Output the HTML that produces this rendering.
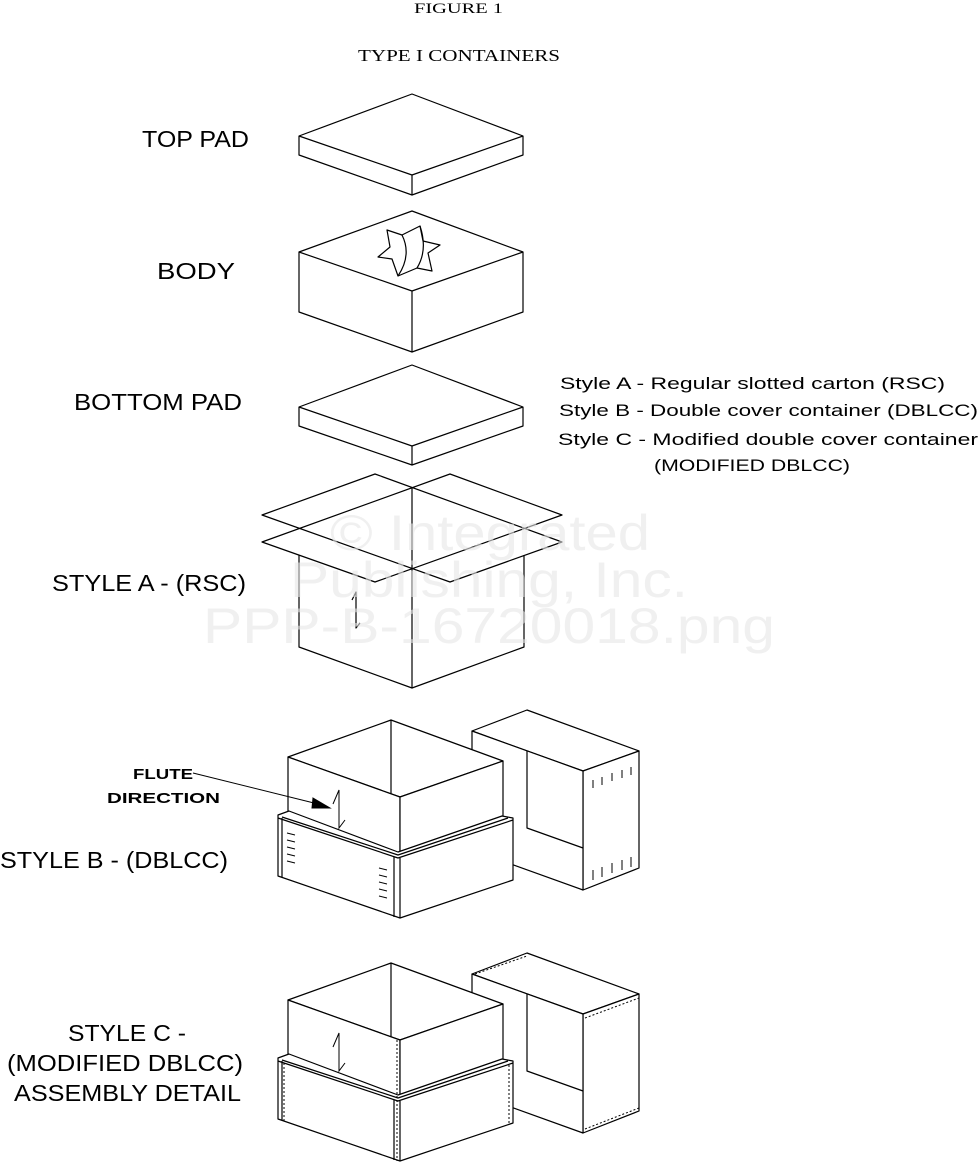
<!DOCTYPE html>
<html><head><meta charset="utf-8"><style>
html,body{margin:0;padding:0;background:#fff}
svg{display:block}
text{font-family:"Liberation Sans",sans-serif;fill:#000}
</style></head><body>
<svg width="979" height="1163" viewBox="0 0 979 1163" xmlns="http://www.w3.org/2000/svg">
<text x="414" y="13" style="font-family:'Liberation Serif',serif" font-size="15" textLength="89" lengthAdjust="spacingAndGlyphs">FIGURE 1</text>
<text x="358" y="61" style="font-family:'Liberation Serif',serif" font-size="17" textLength="202" lengthAdjust="spacingAndGlyphs">TYPE I CONTAINERS</text>

<g font-size="23">
<text x="142" y="147" textLength="107" lengthAdjust="spacingAndGlyphs">TOP PAD</text>
<text x="157" y="279" textLength="78" lengthAdjust="spacingAndGlyphs">BODY</text>
<text x="74" y="410" textLength="168" lengthAdjust="spacingAndGlyphs">BOTTOM PAD</text>
<text x="52" y="591" textLength="194" lengthAdjust="spacingAndGlyphs">STYLE A - (RSC)</text>
<text x="0" y="868" textLength="228" lengthAdjust="spacingAndGlyphs">STYLE B - (DBLCC)</text>
<text x="68" y="1041" textLength="118" lengthAdjust="spacingAndGlyphs">STYLE C -</text>
<text x="7" y="1071" textLength="236" lengthAdjust="spacingAndGlyphs">(MODIFIED DBLCC)</text>
<text x="14" y="1101" textLength="227" lengthAdjust="spacingAndGlyphs">ASSEMBLY DETAIL</text>
</g>
<g font-size="17">
<text x="560" y="389" textLength="385" lengthAdjust="spacingAndGlyphs">Style A - Regular slotted carton (RSC)</text>
<text x="559" y="416" textLength="419" lengthAdjust="spacingAndGlyphs">Style B - Double cover container (DBLCC)</text>
<text x="558" y="445" textLength="420" lengthAdjust="spacingAndGlyphs">Style C - Modified double cover container</text>
<text x="654" y="471" textLength="196" lengthAdjust="spacingAndGlyphs">(MODIFIED DBLCC)</text>
</g>
<g font-size="15" style="font-weight:bold">
<text x="133" y="779" textLength="60" lengthAdjust="spacingAndGlyphs">FLUTE</text>
<text x="107" y="803" textLength="113" lengthAdjust="spacingAndGlyphs">DIRECTION</text>
</g>

<g fill="#fff" stroke="#000" stroke-width="1.2" stroke-linejoin="round">
<polygon points="412,94 523,136 523,155 412,195 299,155 299,136"/>
<polyline fill="none" points="299,136 412,175 523,136"/><line x1="412" y1="175" x2="412" y2="195"/>
<polygon points="412,211 523,252 523,312 412,352 299,312 299,252"/>
<polyline fill="none" points="299,252 412,291 523,252"/><line x1="412" y1="291" x2="412" y2="352"/>
<polygon points="387,230 402,235 420,226 423,241 440,245 428,253 432,271 417,268 398,276 392,259 378,257 390,247"/>
<path fill="none" d="M402,235 Q412,255 398,276 M420,226 Q428,250 417,268"/>
<polygon points="412,365 523,407 523,426 412,465 299,426 299,407"/>
<polyline fill="none" points="299,407 412,446 523,407"/><line x1="412" y1="446" x2="412" y2="465"/>
<polyline fill="none" points="299,555 299,647 412,688 524,647 524,555"/>
<line x1="412" y1="488" x2="412" y2="688"/>
<polygon fill="none" points="262,515 375,474 562,542 450,582"/>
<polygon fill="none" points="562,515 450,474 262,542 375,582"/>
<polyline fill="none" points="352,600 356,592 356,628 360,623"/>
</g>

<g fill="#fff" stroke="#000" stroke-width="1.2" stroke-linejoin="round">
<polygon points="472,731 527,710 639,751 583,771"/>
<polygon points="583,771 639,751 639,868 583,890"/>
<polygon points="472,731 583,771 583,890 472,850"/>
<polyline fill="none" points="527,751 527,828 583,848"/>
<polygon points="288,757 391,720 503,761 400,797"/>
<line x1="391" y1="720" x2="391" y2="797"/>
<polygon points="288,757 400,797 400,860 288,820"/>
<polygon points="400,797 503,761 503,822 400,860"/>
<polygon points="278,815 289,811 398,852 502,816 513,818 513,880 400,918 278,876"/>
<polyline fill="none" points="278,818 398,858 513,820"/>
<polyline fill="none" points="282,817 398,855 508,818"/>
<line x1="282" y1="818" x2="282" y2="877"/>
<line x1="394" y1="857" x2="394" y2="917"/>
<line x1="400" y1="858" x2="400" y2="918"/>
</g>
<g stroke="#000" stroke-width="1" fill="none">
<path d="M287,833l8,2M287,840l8,2M287,847l8,2M287,854l8,2M287,861l8,2"/>
<path d="M379,868l8,2M379,875l8,2M379,882l8,2M379,889l8,2M379,896l8,2"/>
<path d="M593,788v-8M602,785v-8M612,781v-8M622,778v-8M631,775v-8"/>
<path d="M593,880v-10M602,877v-10M612,873v-10M622,870v-10M631,867v-10"/>
<polyline points="333,804 339,790 339,828 345,820"/>
<line x1="193" y1="773" x2="318" y2="804"/>
<polygon fill="#000" points="313,798 330,808 312,808"/>
</g>

<g transform="translate(0,243)">
<g fill="#fff" stroke="#000" stroke-width="1.2" stroke-linejoin="round">
<polygon points="472,731 527,710 639,751 583,771"/>
<polygon points="583,771 639,751 639,868 583,890"/>
<polygon points="472,731 583,771 583,890 472,850"/>
<polyline fill="none" points="527,751 527,828 583,848"/>
<polygon points="288,757 391,720 503,761 400,797"/>
<line x1="391" y1="720" x2="391" y2="797"/>
<polygon points="288,757 400,797 400,860 288,820"/>
<polygon points="400,797 503,761 503,822 400,860"/>
<polygon points="278,815 289,811 398,852 502,816 513,818 513,880 400,918 278,876"/>
<polyline fill="none" points="278,818 398,858 513,820"/>
<polyline fill="none" points="282,817 398,855 508,818"/>
<line x1="282" y1="818" x2="282" y2="877"/>
<line x1="394" y1="857" x2="394" y2="917"/>
<line x1="400" y1="858" x2="400" y2="918"/>
</g>
<g stroke="#000" stroke-width="1" fill="none" stroke-dasharray="2 2">
<line x1="284" y1="820" x2="284" y2="878"/>
<line x1="397" y1="797" x2="397" y2="918"/>
<line x1="509" y1="822" x2="509" y2="880"/>
<line x1="475" y1="731" x2="527" y2="713"/>
<line x1="585" y1="775" x2="639" y2="755"/>
<line x1="585" y1="886" x2="639" y2="865"/>
</g>
<polyline stroke="#000" stroke-width="1" fill="none" points="333,804 339,790 339,828 345,820"/>
</g>

<g font-size="50" style="fill:#e6e6e6;fill-opacity:0.6">
<text x="330" y="550" textLength="320" lengthAdjust="spacingAndGlyphs" style="fill:#e6e6e6;fill-opacity:0.6">© Integrated</text>
<text x="290" y="597" textLength="398" lengthAdjust="spacingAndGlyphs" style="fill:#e6e6e6;fill-opacity:0.6">Publishing, Inc.</text>
<text x="203" y="643" textLength="572" lengthAdjust="spacingAndGlyphs" style="fill:#e6e6e6;fill-opacity:0.6">PPP-B-16720018.png</text>
</g>
</svg>
</body></html>
